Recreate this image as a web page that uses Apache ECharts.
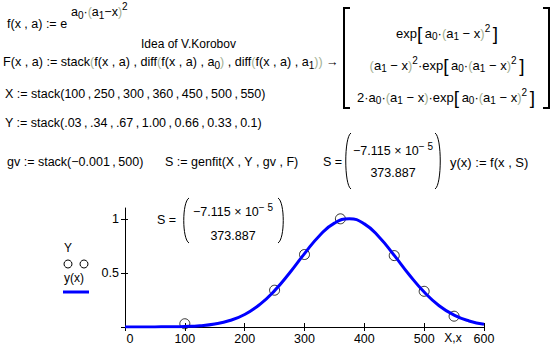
<!DOCTYPE html>
<html><head><meta charset="utf-8">
<script src="https://cdn.jsdelivr.net/npm/echarts@6/dist/echarts.min.js"></script>
<style>html,body{margin:0;padding:0;background:#fff}#c{width:555px;height:348px}</style>
</head><body><div id="c"></div>
<script>
// ---- data ----
const xTickValues = [0, 100, 200, 300, 400, 500, 600];
const yTickValues = [0, 0.5, 1];
const yLabelValues = [0.5, 1];
const obsX = [100, 250, 300, 360, 450, 500, 550];
const obsY = [0.03, 0.34, 0.67, 1.00, 0.66, 0.33, 0.1];
const fitX = [0, 25, 50, 75, 100, 125, 150, 175, 200, 225, 250, 275, 300, 325, 350, 375, 400, 425, 450, 475, 500, 525, 550, 575, 600];
const fitY = [0.000, 0.000, 0.001, 0.002, 0.005, 0.012, 0.028, 0.060, 0.116, 0.207, 0.336, 0.499, 0.678, 0.844, 0.960, 1.000, 0.953, 0.830, 0.662, 0.483, 0.323, 0.197, 0.110, 0.056, 0.026];

const FF = 'Liberation Sans, Arial, sans-serif';
const PALE = '#a3b093';
function rich(fs) {
  return {
    s: {fontFamily: FF, fontSize: 10, padding: [7, 0, 0, 0]},
    p: {fontFamily: FF, fontSize: 10, padding: [0, 0, 10, 0]},
    b: {fontFamily: FF, fontSize: Math.round(fs * 1.45)},
    g: {fontFamily: FF, fontSize: fs, fill: PALE}
  };
}
function T(x, y, text, o) {
  o = o || {};
  const fs = o.fs || 12;
  return {type: 'text', x: x, y: y, silent: true, style: {
    text: text, fontFamily: FF, fontSize: fs, fill: '#000',
    align: o.align || 'left', verticalAlign: 'middle', rich: rich(fs)}};
}
function lparen(x, t, b) {
  return {type: 'bezierCurve', silent: true, shape: {x1: x + 6, y1: t, cpx1: x - 1, cpy1: t + 4, cpx2: x - 1, cpy2: b - 4, x2: x + 6, y2: b},
    style: {stroke: '#000', lineWidth: 1, fill: null}};
}
function rparen(x, t, b) {
  return {type: 'bezierCurve', silent: true, shape: {x1: x - 6, y1: t, cpx1: x + 1, cpy1: t + 4, cpx2: x + 1, cpy2: b - 4, x2: x - 6, y2: b},
    style: {stroke: '#000', lineWidth: 1, fill: null}};
}
const TS = '\u2009';
const SEP = TS + ',' + TS;
const expo = 'exp{b|[}' + TS + 'a{s|0}·{g|(}a{s|1} − x{g|)}{p|2}' + TS + '{b|]}';
const graphics = [
  T(7, 24, 'f(x , a) := e', {fs: 12.5}),
  T(71, 12, 'a{s|0}·{g|(}a{s|1}−x{g|)}', {fs: 12.5}),
  T(122, 6, '2', {fs: 10}),
  T(141, 44, 'Idea of V.Korobov', {fs: 12}),
  T(3, 62, 'F(x , a) := stack{g|(}f(x , a) , diff{g|(}f(x , a) , a{s|0}{g|)} , diff{g|(}f(x , a) , a{s|1}{g|)}{g|)} →', {fs: 12.6}),
  {type: 'polyline', silent: true, shape: {points: [[350, 8], [344, 8], [344, 108], [350, 108]]}, style: {stroke: '#000', lineWidth: 2, fill: null}},
  {type: 'polyline', silent: true, shape: {points: [[543, 8], [549, 8], [549, 108], [543, 108]]}, style: {stroke: '#000', lineWidth: 2, fill: null}},
  T(447, 33, expo, {align: 'center', fs: 13}),
  T(447, 65, '{g|(}a{s|1} − x{g|)}{p|2}·' + expo, {align: 'center', fs: 13}),
  T(446, 97, '2·a{s|0}·{g|(}a{s|1} − x{g|)}·' + expo, {align: 'center', fs: 13}),
  T(5, 94, 'X := stack(100' + SEP + '250' + SEP + '300' + SEP + '360' + SEP + '450' + SEP + '500' + SEP + '550)', {fs: 12.5}),
  T(5, 123, 'Y := stack(.03' + SEP + '.34' + SEP + '.67' + SEP + '1.00' + SEP + '0.66' + SEP + '0.33' + SEP + '0.1)', {fs: 12.5}),
  T(7, 162, 'gv := stack(−0.001' + SEP + '500)', {fs: 12.5}),
  T(165, 162, 'S := genfit(X , Y , gv , F)', {fs: 12.5}),
  T(323, 162, 'S =', {fs: 12.5}),
  lparen(345, 133, 189),
  rparen(441, 133, 189),
  T(393, 151, '−7.115 × 10{p|− 5}', {align: 'center', fs: 12.5}),
  T(393, 173, '373.887', {align: 'center', fs: 12.5}),
  T(450, 162, 'y(x) := f(x , S)', {fs: 13}),
  // plot annotation
  T(157, 220, 'S =', {fs: 12.5}),
  lparen(183, 198, 243),
  rparen(284, 198, 243),
  T(233, 212, '−7.115 × 10{p|− 5}', {align: 'center', fs: 12.5}),
  T(233, 236, '373.887', {align: 'center', fs: 12.5}),
  // legend
  T(64, 248, 'Y'),
  {type: 'circle', silent: true, shape: {cx: 68, cy: 264, r: 4}, style: {stroke: '#000', lineWidth: 1, fill: null}},
  {type: 'circle', silent: true, shape: {cx: 84, cy: 264, r: 4}, style: {stroke: '#000', lineWidth: 1, fill: null}},
  T(64, 278, 'y(x)'),
  {type: 'line', silent: true, shape: {x1: 63, y1: 292, x2: 89, y2: 292}, style: {stroke: '#0000ff', lineWidth: 3}},
  T(453, 338, 'X,x', {align: 'center'})
];

const chart = echarts.init(document.getElementById('c'), null, {renderer: 'svg'});
const axisCommon = {
  axisLine: {show: true, onZero: false, lineStyle: {color: '#000', width: 1}},
  splitLine: {show: false}
};
chart.setOption({
  animation: false,
  backgroundColor: '#fff',
  textStyle: {fontFamily: FF},
  grid: {left: 125, right: 71, top: 208, bottom: 21, containLabel: false},
  xAxis: [
    Object.assign({type: 'value', min: 0, max: 600, position: 'bottom',
      axisTick: {show: true, inside: false, length: 4, customValues: xTickValues, lineStyle: {color: '#000'}},
      axisLabel: {show: true, customValues: xTickValues, color: '#000', fontSize: 12.5, fontFamily: FF, margin: 5,
        formatter: function (v) { return v === 0 ? '{z|0}' : String(v); },
        rich: {z: {fontFamily: FF, fontSize: 12.5, color: '#000', padding: [0, 0, 0, 10]}}}
    }, axisCommon),
    {type: 'value', min: 0, max: 600, position: 'bottom', axisLine: {show: false}, splitLine: {show: false},
      axisTick: {show: true, inside: true, length: 4, customValues: xTickValues, lineStyle: {color: '#000'}},
      axisLabel: {show: false}}
  ],
  yAxis: [
    Object.assign({type: 'value', min: 0, max: 1.1, position: 'left',
      axisTick: {show: true, inside: false, length: 4, customValues: yTickValues, lineStyle: {color: '#000'}},
      axisLabel: {show: true, customValues: yLabelValues, color: '#000', fontSize: 12.5, fontFamily: FF, margin: 6,
        formatter: function (v) { return String(v); }}
    }, axisCommon),
    {type: 'value', min: 0, max: 1.1, position: 'left', axisLine: {show: false}, splitLine: {show: false},
      axisTick: {show: true, inside: true, length: 3, customValues: yTickValues, lineStyle: {color: '#000'}},
      axisLabel: {show: false}}
  ],
  series: [
    {type: 'line', name: 'y(x)', xAxisIndex: 0, yAxisIndex: 0, smooth: true, showSymbol: false,
      lineStyle: {color: '#0000ff', width: 3},
      data: fitX.map(function (x, i) { return [x, fitY[i]]; })},
    {type: 'scatter', name: 'Y', xAxisIndex: 0, yAxisIndex: 0, symbol: 'circle', symbolSize: 10,
      itemStyle: {color: 'rgba(0,0,0,0)', borderColor: '#000', borderWidth: 1},
      data: obsX.map(function (x, i) { return [x, obsY[i]]; })}
  ],
  graphic: {elements: graphics}
});
</script></body></html>
